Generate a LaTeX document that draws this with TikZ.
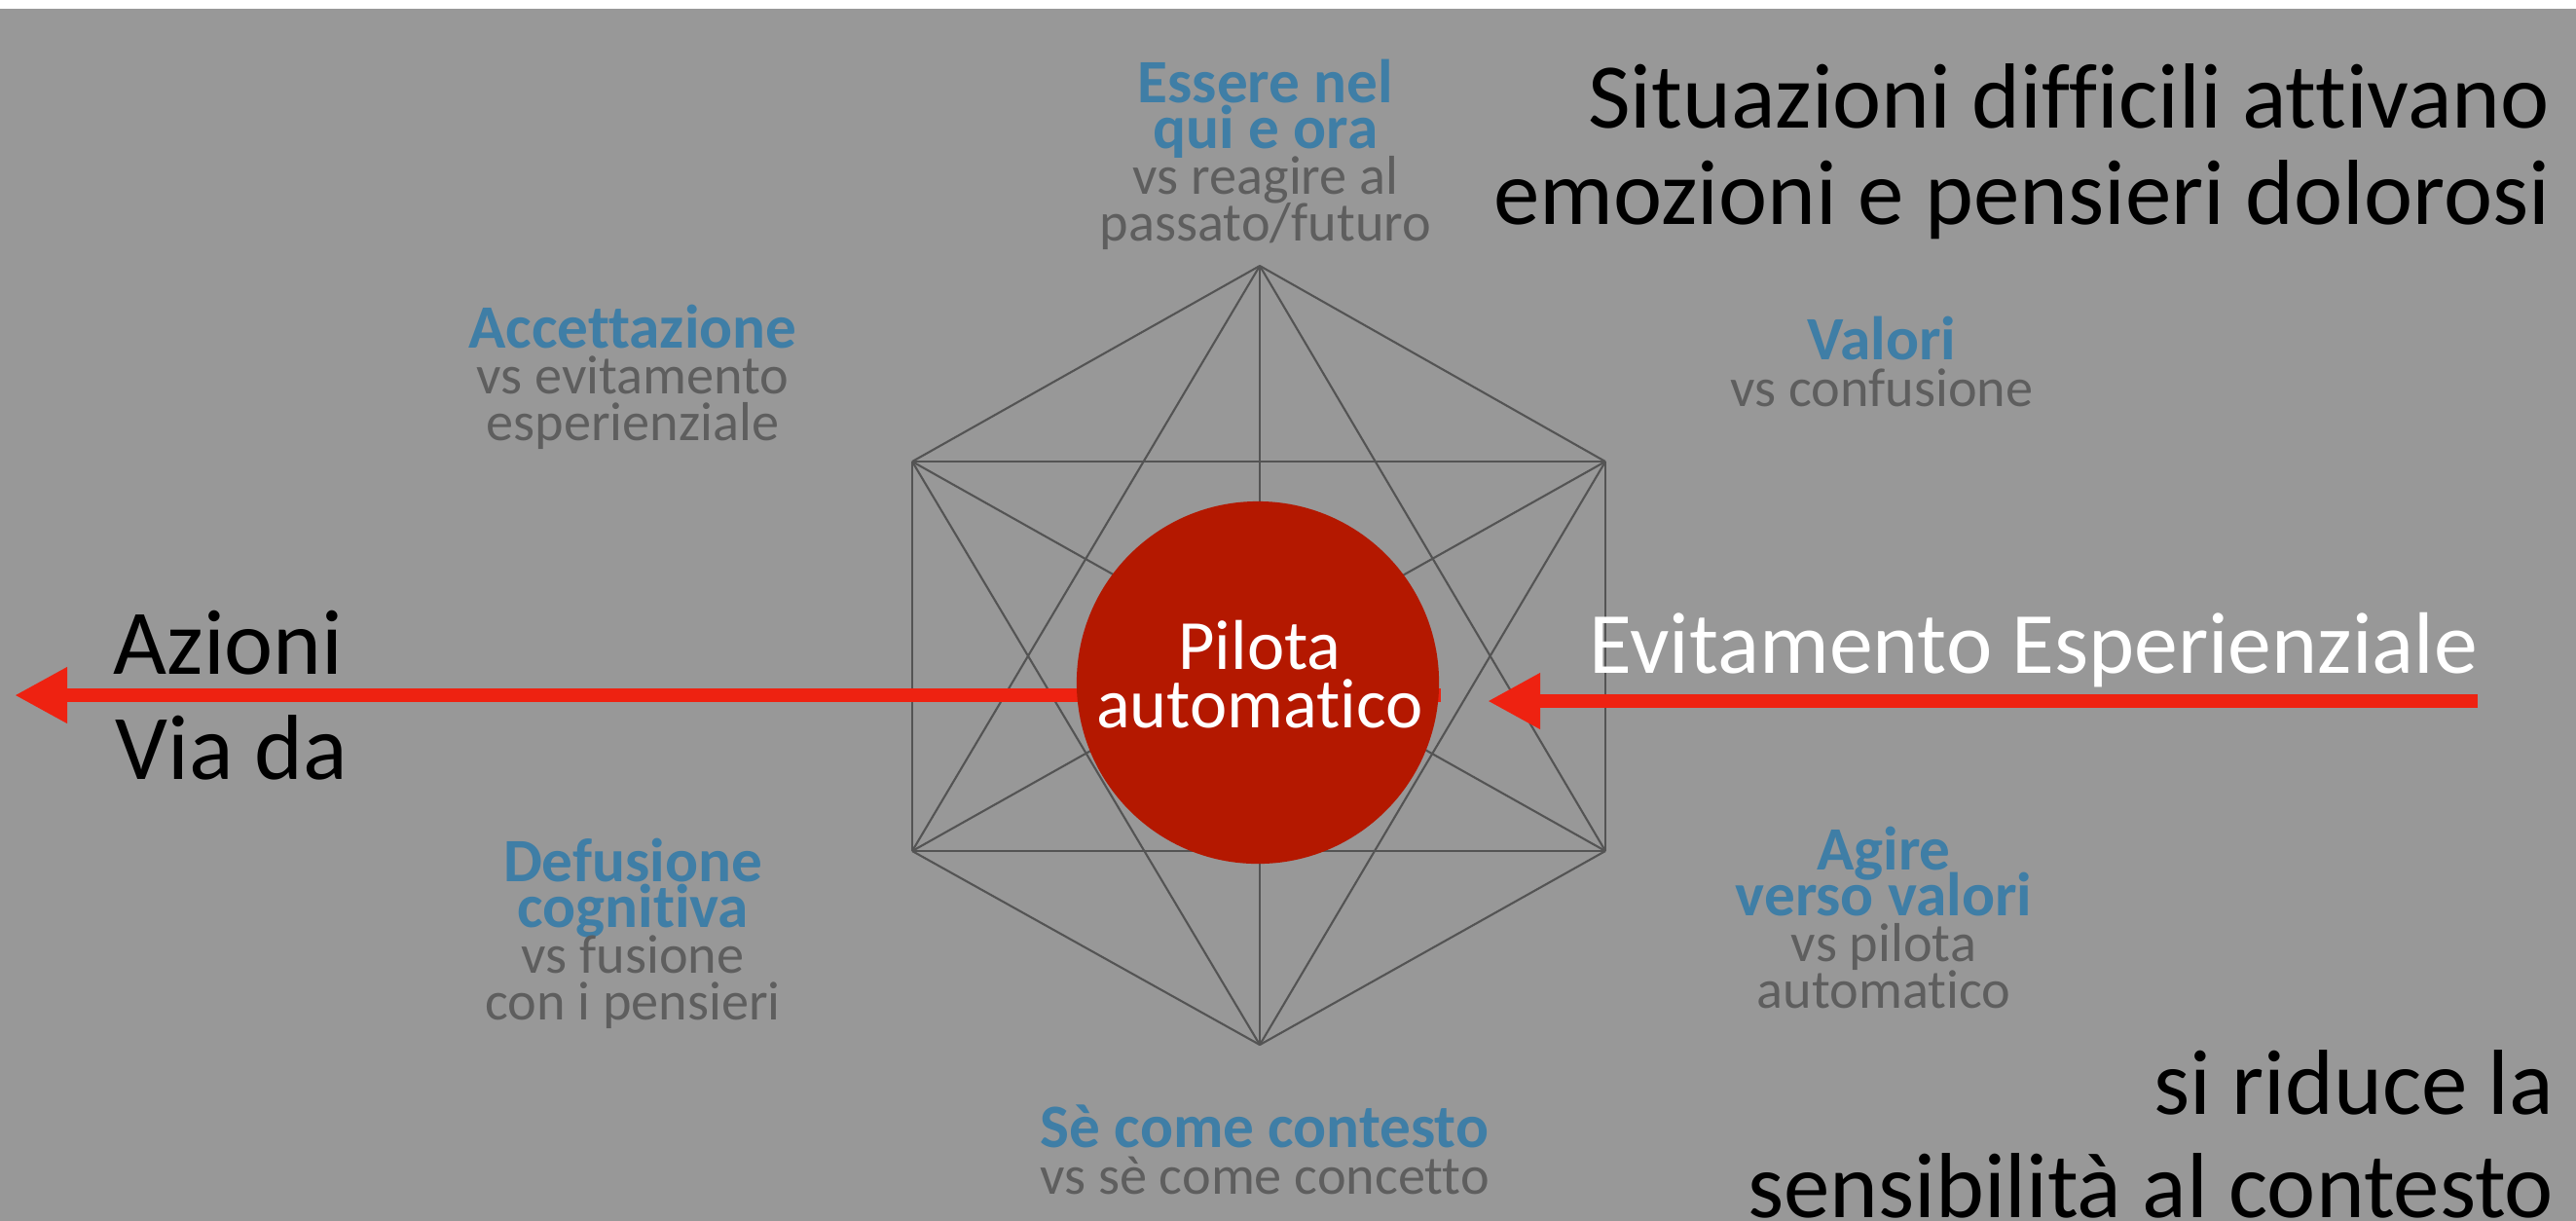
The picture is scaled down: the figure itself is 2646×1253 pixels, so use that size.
\documentclass[tikz,border=0pt]{standalone}
\usepackage{fontspec}
\setmainfont{Carlito}[Ligatures=NoCommon]
\usetikzlibrary{arrows.meta}

\definecolor{slidegray}{HTML}{989898}
\definecolor{webgray}{HTML}{545454}
\definecolor{vsgray}{HTML}{5E5E5E}
\definecolor{actblue}{HTML}{3F7EA6}
\definecolor{pilotred}{HTML}{B41800}
\definecolor{arrowred}{HTML}{EE2211}

\newcommand{\acthead}[1]{{\fontsize{18}{13.4}\selectfont\bfseries\color{actblue}#1}}

\tikzset{
  big/.style={font={\fontsize{27}{28}\selectfont\lineskiplimit=-\maxdimen}, inner sep=0pt},
  tag/.style={font={\fontsize{16}{13.4}\selectfont\lineskiplimit=-\maxdimen},
    text=vsgray, align=center, anchor=base, inner sep=0pt},
  web/.style={draw=webgray, line width=0.6pt},
  redarrow/.style={draw=arrowred, line width=3.8pt,
    -{Triangle[length=15.4pt,width=15.4pt]}},
  pilot/.style={circle, fill=pilotred, minimum size=3.72cm, inner sep=0pt},
  pilottext/.style={font={\fontsize{20.6}{17}\selectfont\lineskiplimit=-\maxdimen},
    text=white, align=center, anchor=base, inner sep=0pt}
}

\begin{document}
\begin{tikzpicture}[x=0.01cm,y=-0.01cm]
  \useasboundingbox (0,0) rectangle (2646,1253);
  \fill[white] (0,0) rectangle (2646,9);
  \fill[slidegray] (0,9) rectangle (2646,1400);

  % hexagon corners
  \foreach \n/\x/\y in {1/1294/273, 2/1649/474, 3/1649/874, 4/1294/1073, 5/937/874, 6/937/474}
    \coordinate (v\n) at (\x,\y);
  % every corner joined to every other one
  \foreach \i in {1,...,5}{
    \pgfmathtruncatemacro{\k}{\i+1}
    \foreach \j in {\k,...,6}
      \draw[web] (v\i) -- (v\j);
  }

  % arrows
  \coordinate (awaystart) at (1480,714);
  \coordinate (awaytip) at (15,714);
  \coordinate (avoidstart) at (2545,720);
  \coordinate (avoidtip) at (1528,720);
  \draw[redarrow] (awaystart) -- (awaytip);
  \draw[redarrow] (avoidstart) -- (avoidtip);

  \node[pilot] (pilot) at (1292,701) {};
  \node[pilottext] (pilotlabel) at (1294,747) {Pilota\\automatico};

  % big texts (base = last line)
  \node[big, anchor=base east, align=right] (trigger) at (2620,230)
    {Situazioni difficili attivano\\emozioni e pensieri dolorosi};
  \node[big, anchor=base west, text=white, font={\fontsize{25.5}{28}\selectfont}] (avoid) at (1632,691) {Evitamento Esperienziale};
  \node[big, anchor=base west] (azioni) at (116,692) {Azioni};
  \node[big, anchor=base west] (viada) at (118,800) {Via da};
  \node[big, anchor=base east, align=right, font={\fontsize{27}{30}\selectfont\lineskiplimit=-\maxdimen}]
    (context) at (2624,1250) {si riduce la\\sensibilità al contesto};

  % the six processes
  \node[tag] (present) at (1300,247)
    {\acthead{Essere nel}\\\acthead{qui e ora}\\vs reagire al\\passato/futuro};
  \node[tag] (accept) at (650,452)
    {\acthead{Accettazione}\\vs evitamento\\esperienziale};
  \node[tag] (values) at (1933,417)
    {\acthead{Valori}\\vs confusione};
  \node[tag] (defusion) at (650,1047)
    {\acthead{Defusione}\\\acthead{cognitiva}\\vs fusione\\con i pensieri};
  \node[tag] (action) at (1935,1035)
    {\acthead{Agire}\\\acthead{verso valori}\\vs pilota\\automatico};
  \node[tag] (self) at (1299,1226)
    {\acthead{Sè come contesto}\\vs sè come concetto};
\end{tikzpicture}
\end{document}
